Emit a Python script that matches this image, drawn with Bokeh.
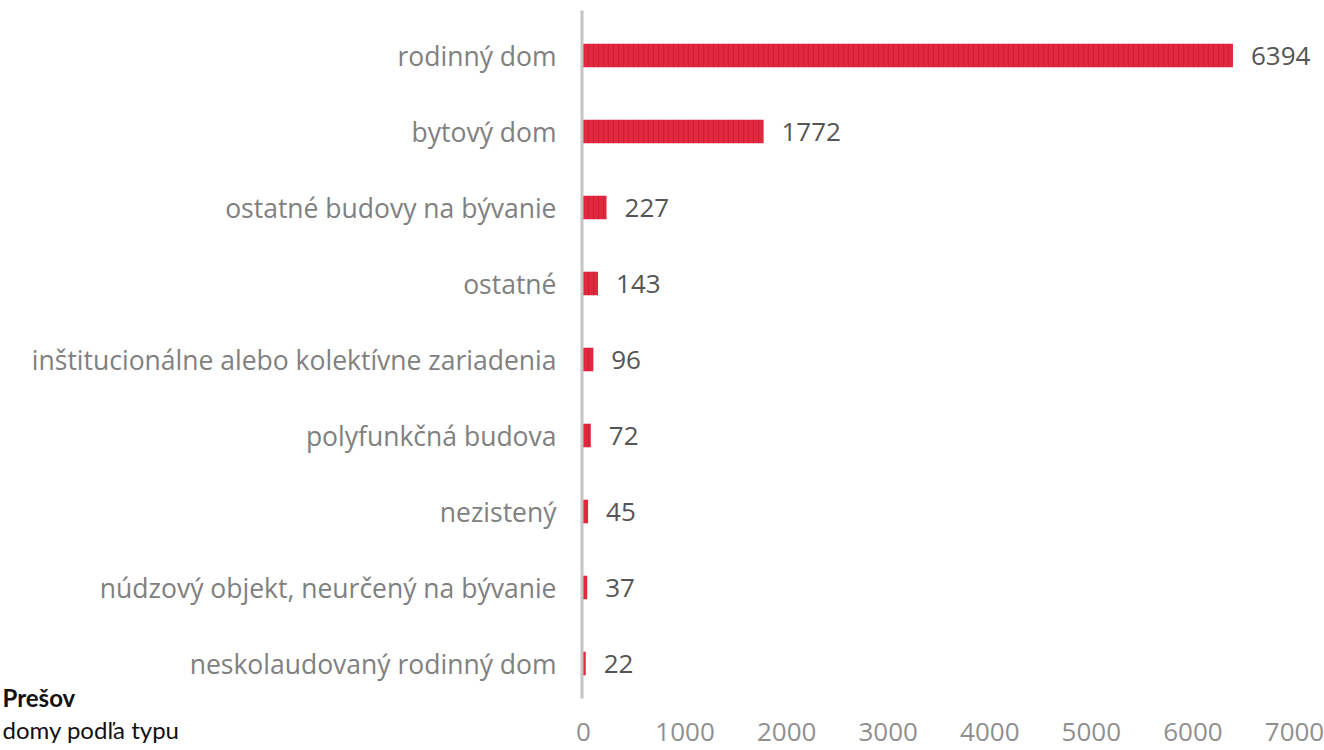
from bokeh.plotting import figure
from bokeh.models import ColumnDataSource, Range1d, Label
from bokeh.core.properties import value
from bokeh.embed import file_html
from bokeh.resources import INLINE

categories = [
    "rodinný dom",
    "bytový dom",
    "ostatné budovy na bývanie",
    "ostatné",
    "inštitucionálne alebo kolektívne zariadenia",
    "polyfunkčná budova",
    "nezistený",
    "núdzový objekt, neurčený na bývanie",
    "neskolaudovaný rodinný dom",
]
counts = [6394, 1772, 227, 143, 96, 72, 45, 37, 22]
x_ticks = [0, 1000, 2000, 3000, 4000, 5000, 6000, 7000]
title_text = "Prešov"
subtitle_text = "domy podľa typu"

# ---- layout (pixels) ----
W, H = 1324, 750
X0_PX, X7000_PX = 583, 1294        # where 0 and 7000 sit
ROW0_PX, ROW_STEP = 55, 76         # centre of first row, row spacing
upp = 7000 / (X7000_PX - X0_PX)    # data units per pixel (x)


def row_at(py):
    """row coordinate that lands on pixel row py"""
    return (py - ROW0_PX) / ROW_STEP


rows = list(range(len(categories)))
src = ColumnDataSource(dict(row=rows, cat=categories, val=counts,
                            lab=[str(c) for c in counts]))
tick_src = ColumnDataSource(dict(x=x_ticks, lab=[str(t) for t in x_ticks],
                                 y=[row_at(731)] * len(x_ticks)))

p = figure(
    width=W, height=H,
    x_range=Range1d(-X0_PX * upp, (W - X0_PX) * upp),
    y_range=Range1d(row_at(H), row_at(0)),
    output_backend="svg", toolbar_location=None,
    min_border_left=0, min_border_right=0, min_border_top=0, min_border_bottom=0,
)
p.outline_line_color = None
p.grid.visible = False
p.axis.visible = False
p.background_fill_color = "white"
p.border_fill_color = "white"

# vertical axis line (just left of the bars' zero)
p.segment(x0=-1.5 * upp, y0=row_at(10), x1=-1.5 * upp, y1=row_at(698),
          line_color="#c4c4c4", line_width=3)

# bars
p.hbar(y="row", right="val", left=0, height=0.31, source=src,
       fill_color="#e2283f", line_color=None,
       hatch_pattern="vertical_line", hatch_color="#a80f28", hatch_alpha=0.35,
       hatch_scale=5, hatch_weight=1)

# category labels
p.text(x=0, y="row", text="cat", source=src, x_offset=-27,
       text_baseline="middle", text_align="right",
       text_font=value("Open Sans"), text_font_size="26.5px", text_color="#808080")

# value labels
p.text(x="val", y="row", text="lab", source=src, x_offset=18,
       text_baseline="middle", text_align="left",
       text_font=value("Open Sans"), text_font_size="26px", text_color="#555555")

# x tick labels
p.text(x="x", y="y", text="lab", source=tick_src,
       text_baseline="middle", text_align="center",
       text_font=value("Open Sans"), text_font_size="26px", text_color="#8f8f8f")

t1 = Label(x=2, y=53, x_units="screen", y_units="screen", text=title_text,
           text_font="Lato", text_font_style="bold", text_font_size="24px",
           text_color="#111111", text_baseline="alphabetic")
t2 = Label(x=2, y=21, x_units="screen", y_units="screen", text=subtitle_text,
           text_font="Lato", text_font_size="24px",
           text_color="#111111", text_baseline="alphabetic")
p.add_layout(t1)
p.add_layout(t2)

open("out.html", "w").write(file_html(p, INLINE))
